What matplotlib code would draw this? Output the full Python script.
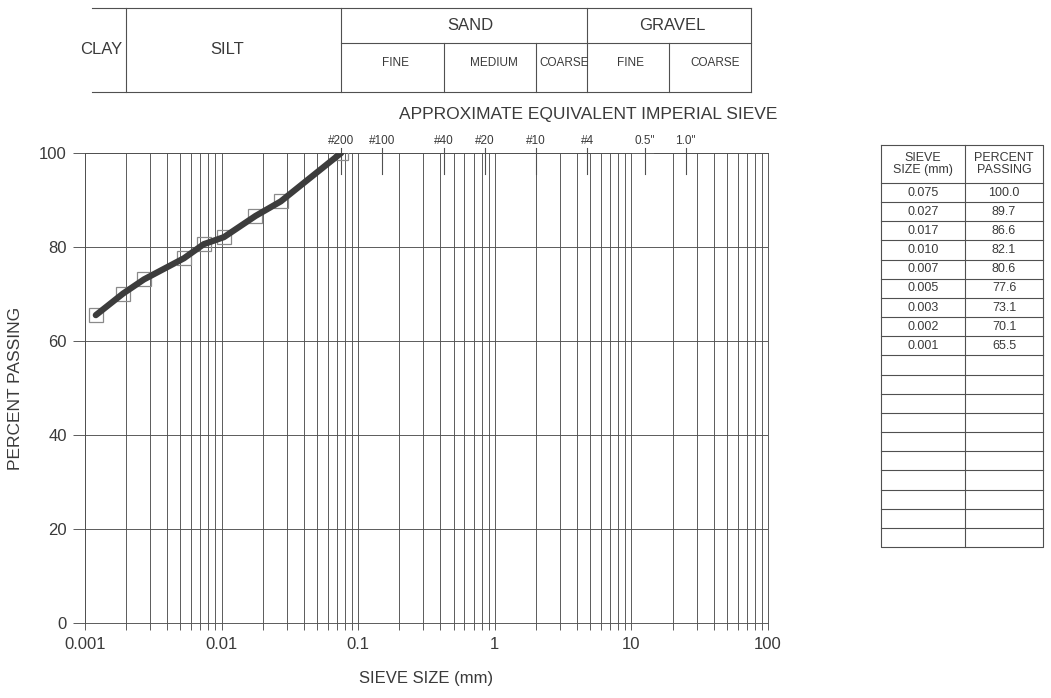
import numpy as np
import matplotlib.pyplot as plt
from matplotlib.transforms import blended_transform_factory

plt.rcParams['font.family'] = ['Liberation Sans', 'DejaVu Sans']

# grain size results (table text as printed, plotted sizes)
table_sizes = ['0.075', '0.027', '0.017', '0.010', '0.007', '0.005', '0.003', '0.002', '0.001']
table_passing = [100.0, 89.7, 86.6, 82.1, 80.6, 77.6, 73.1, 70.1, 65.5]
grain_mm = [0.075, 0.0271, 0.0177, 0.0104, 0.0074, 0.0053, 0.0027, 0.0019, 0.0012]

# imperial sieve marks along the top
sieve_names = ['#200', '#100', '#40', '#20', '#10', '#4', '0.5"', '1.0"']
sieve_mm = [0.075, 0.15, 0.425, 0.85, 2.0, 4.75, 12.5, 25.0]

x_ticks = [0.001, 0.01, 0.1, 1, 10, 100]
x_ticklabels = ['0.001', '0.01', '0.1', '1', '10', '100']
y_ticks = [0, 20, 40, 60, 80, 100]

# soil classification boundaries (mm)
class_bounds = [0.002, 0.075, 4.75, 75]
sub_bounds = [0.425, 2.0, 19]
class_names = ['CLAY', 'SILT', 'SAND', 'GRAVEL']
sub_names = ['FINE', 'MEDIUM', 'COARSE', 'FINE', 'COARSE']

n_table_rows = 19

LC = '#505050'
TC = '#3a3a3a'
GW = 0.65
W, H = 1051, 698

fig = plt.figure(figsize=(W / 100, H / 100), dpi=100)

# ---- main chart ----
ax = fig.add_axes([85 / W, 1 - 623 / H, 683 / W, 470 / H])
ax.set_xscale('log')
ax.set_xlim(0.001, 100)
ax.set_ylim(0, 100)
ax.set_xticks(x_ticks)
ax.set_xticklabels(x_ticklabels)
ax.set_yticks(y_ticks)
ax.grid(axis='x', which='both', color=LC, lw=GW)
ax.grid(axis='y', which='major', color=LC, lw=GW)
ax.tick_params(axis='x', which='both', direction='out', length=5, width=GW,
               color=LC, labelsize=12, labelcolor=TC, pad=5)
ax.tick_params(axis='y', direction='out', length=9, width=GW,
               color=LC, labelsize=12, labelcolor=TC, pad=4)
for side in ['left', 'right', 'bottom']:
    ax.spines[side].set_color(LC)
    ax.spines[side].set_linewidth(GW)
ax.spines['top'].set_visible(False)

trans = blended_transform_factory(ax.transData, ax.transAxes)
# top border, broken around the 0.5" label
ax.plot([0.001, 10], [1, 1], color=LC, lw=GW, transform=trans, clip_on=False)
ax.plot([14.7, 100], [1, 1], color=LC, lw=GW, transform=trans, clip_on=False)

for name, s in zip(sieve_names, sieve_mm):
    ax.plot([s, s], [1.011, 0.955], color=LC, lw=0.8, transform=trans, clip_on=False)
    ax.text(s, 1.026, name, transform=trans, ha='center', va='center',
            fontsize=8.5, color=TC)

ax.plot(grain_mm, table_passing, ls='none', marker='s', ms=10, mfc='none',
        mec='#8a8a8a', mew=0.9, zorder=3)
ax.plot(grain_mm, table_passing, color='#3c3c3c', lw=4.5,
        solid_capstyle='round', zorder=4)

ax.set_xlabel('SIEVE SIZE (mm)', fontsize=12, color=TC, labelpad=14)
ax.set_ylabel('PERCENT PASSING', fontsize=12.5, color=TC, labelpad=12)

fig.text(777 / W, 1 - 114 / H, 'APPROXIMATE EQUIVALENT IMPERIAL SIEVE',
         ha='right', va='center', fontsize=12.5, color=TC)

# ---- classification header ----
hx = fig.add_axes([85 / W, 1 - 92 / H, 683 / W, 84 / H])
hx.set_xscale('log')
hx.set_xlim(0.001, 100)
hx.set_ylim(0, 1)
hx.axis('off')
mid = 0.583
hkw = dict(color=LC, lw=0.8, clip_on=False)
hx.plot([0.00113, class_bounds[-1]], [1, 1], **hkw)
hx.plot([0.00113, class_bounds[-1]], [0, 0], **hkw)
hx.plot([class_bounds[1], class_bounds[-1]], [mid, mid], **hkw)
for b in class_bounds:
    hx.plot([b, b], [0, 1], **hkw)
for b in sub_bounds:
    hx.plot([b, b], [0, mid], **hkw)

class_x = [0.00131, 0.011, 0.667, 19.8]
class_y = [0.5, 0.5, 0.79, 0.79]
for name, x, y in zip(class_names, class_x, class_y):
    hx.text(x, y, name, ha='center', va='center', fontsize=12, color=TC)
sub_x = [0.186, 0.986, 3.21, 9.9, 40.9]
for name, x in zip(sub_names, sub_x):
    hx.text(x, 0.35, name, ha='center', va='center', fontsize=8.5, color=TC)

# ---- result table ----
tx = fig.add_axes([881 / W, 1 - 547 / H, 162 / W, 402 / H])
tx.set_xlim(0, 1)
tx.set_ylim(402, 0)
tx.axis('off')
head_h = 38
row_h = (402 - head_h) / n_table_rows
col = 0.52
tkw = dict(color=LC, lw=0.8, clip_on=False)
tx.plot([0, 1, 1, 0, 0], [0, 0, 402, 402, 0], **tkw)
tx.plot([col, col], [0, 402], **tkw)
for i in range(n_table_rows):
    y = head_h + i * row_h
    tx.plot([0, 1], [y, y], **tkw)
tx.text(col / 2, head_h / 2, 'SIEVE\nSIZE (mm)', ha='center', va='center',
        fontsize=9, color=TC, linespacing=1.0)
tx.text((1 + col) / 2, head_h / 2, 'PERCENT\nPASSING', ha='center', va='center',
        fontsize=9, color=TC, linespacing=1.0)
for i, (s, p) in enumerate(zip(table_sizes, table_passing)):
    y = head_h + (i + 0.5) * row_h
    tx.text(col / 2, y, s, ha='center', va='center', fontsize=9, color=TC)
    tx.text((1 + col) / 2, y, f'{p:.1f}', ha='center', va='center', fontsize=9, color=TC)

fig.savefig('out.png', dpi=100)
